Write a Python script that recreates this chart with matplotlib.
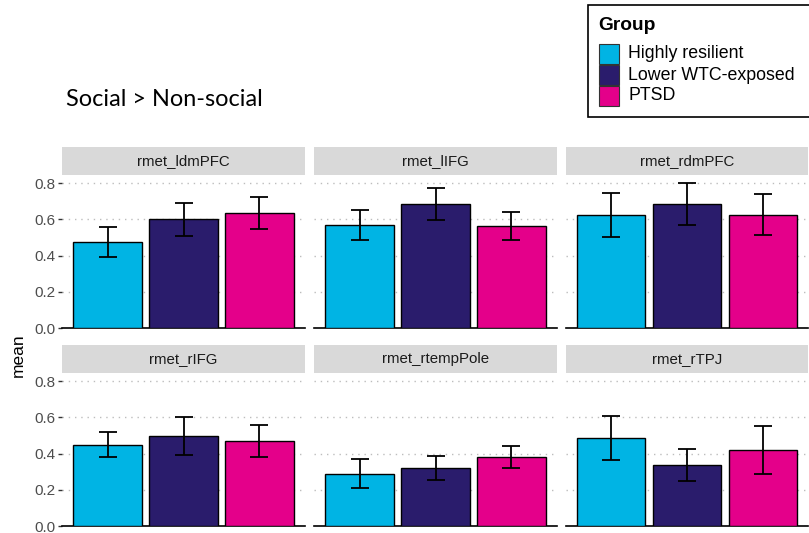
import matplotlib
matplotlib.use("Agg")
import matplotlib.pyplot as plt
from matplotlib.patches import Rectangle
import numpy as np

plt.rcParams['font.family'] = ['Liberation Sans', 'DejaVu Sans']

groups = ["Highly resilient", "Lower WTC-exposed", "PTSD"]
colors = ["#00B4E4", "#2A1C6C", "#E4008A"]
regions = ["rmet_ldmPFC", "rmet_lIFG", "rmet_rdmPFC",
           "rmet_rIFG", "rmet_rtempPole", "rmet_rTPJ"]
means = [
    [0.475, 0.600, 0.635],
    [0.570, 0.685, 0.565],
    [0.625, 0.685, 0.627],
    [0.450, 0.497, 0.470],
    [0.290, 0.320, 0.382],
    [0.488, 0.338, 0.420],
]
errors = [
    [0.085, 0.090, 0.088],
    [0.083, 0.090, 0.078],
    [0.120, 0.115, 0.112],
    [0.070, 0.107, 0.090],
    [0.080, 0.068, 0.060],
    [0.122, 0.090, 0.133],
]
yticks = [0.0, 0.2, 0.4, 0.6, 0.8]

W, H = 809, 533
fig = plt.figure(figsize=(W / 100, H / 100), dpi=100)

col_x = [(62, 305), (314, 557), (566, 808)]
row_zero = [328, 526]
px_per_unit = 181.0
ytop = 0.845
strip_h = 28

def fx(px):
    return px / W

def fy(py):
    return 1 - py / H

for i, reg in enumerate(regions):
    r, c = divmod(i, 3)
    x0, x1 = col_x[c]
    yb = row_zero[r]
    yt = yb - ytop * px_per_unit
    ax = fig.add_axes([fx(x0), fy(yb), fx(x1 - x0), (yb - yt) / H])
    xs = np.arange(len(groups))
    ax.bar(xs, means[i], width=0.9, color=colors, edgecolor="black",
           linewidth=1.0, zorder=3)
    ax.errorbar(xs, means[i], yerr=errors[i], fmt="none", ecolor="black",
                elinewidth=1.3, capsize=6.8, capthick=1.3, zorder=4)
    ax.set_xlim(-0.6, 2.6)
    ax.set_ylim(0, ytop)
    ax.set_yticks(yticks)
    ax.yaxis.grid(True, color="#BDBDBD", linestyle=(0, (1, 3.5)), linewidth=1.0, zorder=0)
    ax.set_axisbelow(True)
    ax.set_xticks([])
    for s in ["top", "right", "left"]:
        ax.spines[s].set_visible(False)
    ax.spines["bottom"].set_linewidth(1.2)
    ax.spines["bottom"].set_color("black")
    if c == 0:
        ax.tick_params(axis="y", length=3, width=1.0, color="#333333",
                       labelcolor="#4D4D4D", labelsize=11, pad=2)
        ax.set_yticklabels([f"{v:.1f}" for v in yticks])
    else:
        ax.tick_params(axis="y", length=0, labelleft=False)
    # facet strip
    sax = fig.add_axes([fx(x0), fy(yt), fx(x1 - x0), strip_h / H])
    sax.add_patch(Rectangle((0, 0), 1, 1, transform=sax.transAxes,
                            facecolor="#D9D9D9", edgecolor="none"))
    sax.text(0.5, 0.5, reg, ha="center", va="center", fontsize=10.8,
             color="#1A1A1A", transform=sax.transAxes)
    sax.set_axis_off()

fig.text(fx(18), fy(355), "mean", rotation=90, ha="center", va="center",
         fontsize=12.5, color="black")

fig.text(fx(66), fy(100), "Social > Non-social", ha="left", va="center",
         fontsize=16.9, family=["Lato", "DejaVu Sans"], color="black")

# group legend box
fig.patches.append(Rectangle((fx(588), fy(117)), fx(230), (117 - 5) / H,
                             transform=fig.transFigure, facecolor="white",
                             edgecolor="black", linewidth=1.2))
fig.text(fx(598), fy(26), "Group", ha="left", va="center", fontsize=13.8,
         fontweight="bold", color="black")
for k, (g, col) in enumerate(zip(groups, colors)):
    ky = 44 + k * 21
    fig.patches.append(Rectangle((fx(599), fy(ky + 20)), fx(20), 20 / H,
                                 transform=fig.transFigure, facecolor=col,
                                 edgecolor="#333333", linewidth=0.8))
    fig.text(fx(628), fy(ky + 10), g, ha="left", va="center", fontsize=12.8,
             color="black")

fig.savefig("out.png", dpi=100, facecolor="white")
